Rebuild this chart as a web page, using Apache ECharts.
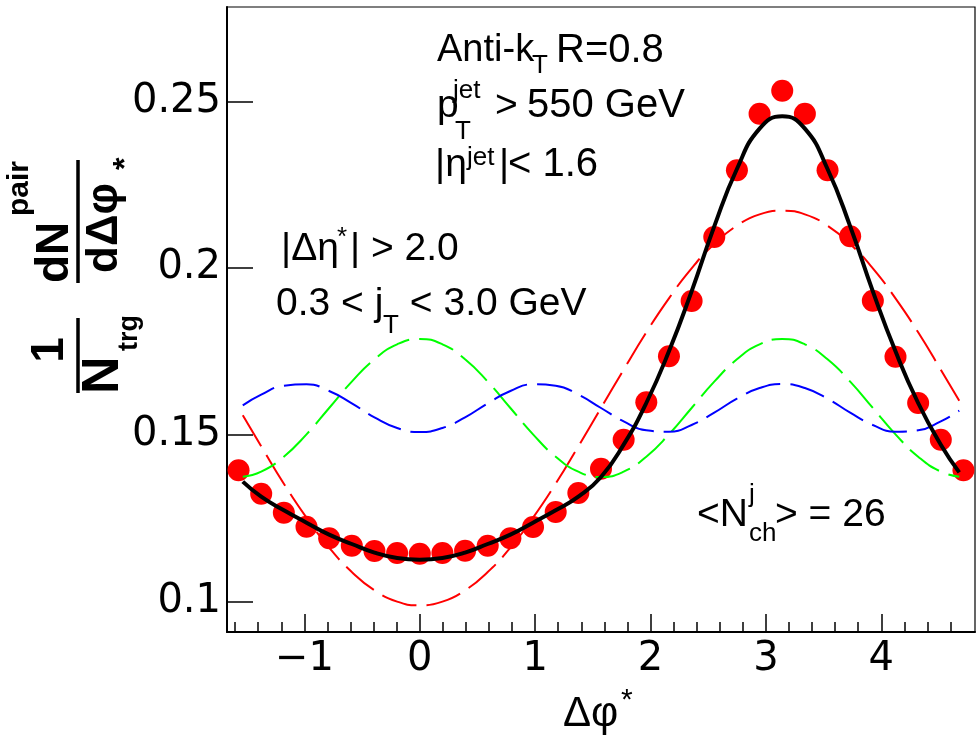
<!DOCTYPE html>
<html><head><meta charset="utf-8">
<script src="https://cdn.jsdelivr.net/npm/echarts@6/dist/echarts.min.js"></script>
<style>html,body{margin:0;padding:0;background:#fff}#c{width:980px;height:741px}</style>
</head><body><div id="c"></div>
<script>
// Data points (Δφ*, 1/Ntrg dN/dΔφ*)
const pointX = [-1.5708,-1.3744,-1.1781,-0.9817,-0.7854,-0.5890,-0.3927,-0.1963,0,0.1963,0.3927,0.5890,0.7854,0.9817,1.1781,1.3744,1.5708,1.7671,1.9635,2.1598,2.3562,2.5525,2.7489,2.9452,3.1416,3.3379,3.5343,3.7306,3.9270,4.1233,4.3197,4.5160,4.7124];
const pointY = [0.1393,0.1323,0.1266,0.1224,0.1189,0.1167,0.1151,0.1145,0.1143,0.1145,0.1152,0.1167,0.1189,0.1223,0.1268,0.1325,0.1398,0.1485,0.1597,0.1735,0.1901,0.2093,0.2293,0.2463,0.2532,0.2463,0.2293,0.2095,0.1902,0.1734,0.1595,0.1485,0.1393];
// Fit curves sampled along Δφ*
const curveX = [-1.534,-1.3744,-1.1781,-0.9817,-0.7854,-0.5890,-0.3927,-0.1963,0,0.1963,0.3927,0.5890,0.7854,0.9817,1.1781,1.3744,1.5708,1.7671,1.9635,2.1598,2.3562,2.5525,2.7489,2.9452,3.1416,3.3379,3.5343,3.7306,3.9270,4.1233,4.3197,4.5160,4.676];
const fitTotal = [0.1359,0.1314,0.1273,0.1236,0.1200,0.1172,0.1146,0.1130,0.1125,0.1130,0.1146,0.1172,0.1200,0.1236,0.1273,0.1314,0.1373,0.1470,0.1595,0.1750,0.1930,0.2125,0.2297,0.2418,0.2455,0.2418,0.2297,0.2125,0.1930,0.1750,0.1595,0.1470,0.1387];
const fitV1 = [0.1558,0.1465,0.1353,0.1251,0.1161,0.1088,0.1033,0.0999,0.0988,0.0999,0.1033,0.1088,0.1161,0.1251,0.1353,0.1465,0.1580,0.1695,0.1807,0.1909,0.1999,0.2072,0.2127,0.2161,0.2172,0.2161,0.2127,0.2072,0.1999,0.1909,0.1807,0.1695,0.1602];
const fitV2 = [0.1374,0.1389,0.1434,0.1501,0.1580,0.1659,0.1726,0.1771,0.1787,0.1771,0.1726,0.1659,0.1580,0.1501,0.1434,0.1389,0.1373,0.1389,0.1434,0.1501,0.1580,0.1659,0.1726,0.1771,0.1787,0.1771,0.1726,0.1659,0.1580,0.1501,0.1434,0.1389,0.1374];
const fitV3 = [0.1588,0.1620,0.1647,0.1651,0.1631,0.1594,0.1552,0.1520,0.1508,0.1520,0.1552,0.1594,0.1631,0.1651,0.1647,0.1620,0.1580,0.1540,0.1513,0.1509,0.1529,0.1566,0.1608,0.1640,0.1652,0.1640,0.1608,0.1566,0.1529,0.1509,0.1513,0.1540,0.1572];
// Axis ticks
const xMajorTicks = [-1,0,1,2,3,4];
const xMinorTicks = [-1.6,-1.4,-1.2,-0.8,-0.6,-0.4,-0.2,0.2,0.4,0.6,0.8,1.2,1.4,1.6,1.8,2.2,2.4,2.6,2.8,3.2,3.4,3.6,3.8,4.2,4.4,4.6];
const yTicks = [0.1,0.15,0.2,0.25];

const X_MIN = -1.6708, X_MAX = 4.8124, Y_MIN = 0.0908, Y_MAX = 0.2783;
const zip = (xs, ys) => xs.map((x, i) => [x, ys[i]]);
const FONT = 'Liberation Sans, Arial, Helvetica, sans-serif';
const TICKFONT = 'DejaVu Sans, sans-serif';

function T(x, y, text, size, weight) {
  return { type: 'text', x: x, y: y, z: 100,
    style: { text: text, fontSize: size, fontFamily: FONT, fontWeight: weight || 'normal', fill: '#000',
      align: 'left', verticalAlign: 'middle', textAlign: 'left', textVerticalAlign: 'middle' } };
}
function TC(x, y, text, size, weight) {
  const e = T(x, y, text, size, weight);
  e.style.align = 'center'; e.style.textAlign = 'center';
  return e;
}
function L(x1, y1, x2, y2, w) {
  return { type: 'line', shape: { x1: x1, y1: y1, x2: x2, y2: y2 }, style: { stroke: '#000', lineWidth: w }, z: 100 };
}

const chart = echarts.init(document.getElementById('c'), null, { renderer: 'canvas' });
const dash = [36, 10];
const A = 39;
chart.setOption({
  animation: false,
  backgroundColor: '#fff',
  grid: { left: 227, right: 5, top: 7, bottom: 109, show: true, borderColor: '#000', borderWidth: 1.2, containLabel: false, outerBoundsMode: 'none' },
  xAxis: [
    { type: 'value', min: X_MIN, max: X_MAX, position: 'bottom',
      axisLine: { show: true, onZero: false, lineStyle: { color: '#000', width: 2 } },
      axisTick: { show: true, inside: true, length: 18, customValues: xMajorTicks, lineStyle: { color: '#000', width: 1.5 } },
      axisLabel: { show: true, customValues: xMajorTicks, margin: 8, color: '#000', fontFamily: TICKFONT, fontSize: 40,
        formatter: v => v < 0 ? '\u2212' + Math.abs(v) : String(v) },
      splitLine: { show: false } },
    { type: 'value', min: X_MIN, max: X_MAX, position: 'bottom',
      axisLine: { show: false, onZero: false },
      axisTick: { show: true, inside: true, length: 10, customValues: xMinorTicks, lineStyle: { color: '#000', width: 1.5 } },
      axisLabel: { show: false }, splitLine: { show: false } }
  ],
  yAxis: { type: 'value', min: Y_MIN, max: Y_MAX,
    axisLine: { show: true, onZero: false, lineStyle: { color: '#000', width: 2 } },
    axisTick: { show: true, inside: true, length: 26, customValues: yTicks, lineStyle: { color: '#000', width: 1.5 } },
    axisLabel: { show: true, customValues: yTicks, margin: 6, color: '#000', fontFamily: TICKFONT, fontSize: 40,
      formatter: v => String(v) },
    splitLine: { show: false } },
  series: [
    { type: 'scatter', xAxisIndex: 0, data: zip(pointX, pointY), symbol: 'circle', symbolSize: 22,
      itemStyle: { color: '#ff0000', opacity: 1 }, z: 2 },
    { type: 'line', xAxisIndex: 0, data: zip(curveX, fitV1), smooth: 0.5, showSymbol: false, z: 3,
      lineStyle: { color: '#ff0000', width: 2, type: dash } },
    { type: 'line', xAxisIndex: 0, data: zip(curveX, fitV2), smooth: 0.5, showSymbol: false, z: 3,
      lineStyle: { color: '#00ff00', width: 2, type: dash } },
    { type: 'line', xAxisIndex: 0, data: zip(curveX, fitV3), smooth: 0.5, showSymbol: false, z: 3,
      lineStyle: { color: '#0000ff', width: 2, type: dash } },
    { type: 'line', xAxisIndex: 0, data: zip(curveX, fitTotal), smooth: 0.5, showSymbol: false, z: 4,
      lineStyle: { color: '#000', width: 4 } }
  ],
  graphic: { elements: [
    // Anti-kT R=0.8
    T(437, 51, 'Anti-k', 38), T(532, 66, 'T', 26), T(556, 51, 'R=0.8', 40),
    // pT^jet > 550 GeV
    T(437, 106, 'p', A), T(453, 91, 'jet', 26), T(455, 132, 'T', 26), T(495, 106, '>', A), T(527, 106, '550 GeV', 40),
    // |eta^jet| < 1.6
    T(435, 165, '|\u03b7', A), T(467, 158, 'jet', 26), T(499, 165, '|', A), T(508, 165, '< 1.6', 40),
    // |Δη*| > 2.0
    T(281, 249, '|\u0394\u03b7', A), T(337, 238, '*', 26), T(350, 249, '| > 2.0', A),
    // 0.3 < jT < 3.0 GeV
    T(276, 304, '0.3 < j', A), T(383, 326, 'T', 26), T(399, 304, ' < 3.0 GeV', A),
    // <N_ch^j> = 26
    T(697, 515, '<N', A), T(749, 495, 'j', 26), T(749, 534, 'ch', 26), T(775, 515, '> = 26', A),
    // x-axis title
    T(563, 714, '\u0394\u03c6', 42), T(621, 701, '*', 30),
    // y-axis title (rotated)
    { type: 'group', x: 78, y: 400, rotation: Math.PI / 2, children: [
      L(7, 0, 82, 0, 3.5),
      TC(50, -28, '1', 46, 'bold'),
      T(6, 26, 'N', 52, 'bold'),
      T(49, 52, 'trg', 27, 'bold'),
      L(117, 0, 240, 0, 3.5),
      T(117, -23, 'dN', 46, 'bold'),
      T(184, -58, 'pair', 30, 'bold'),
      T(127, 27, 'd\u0394\u03c6', 44, 'bold'),
      T(230, 48, '*', 32, 'bold')
    ] }
  ] }
});
</script></body></html>
